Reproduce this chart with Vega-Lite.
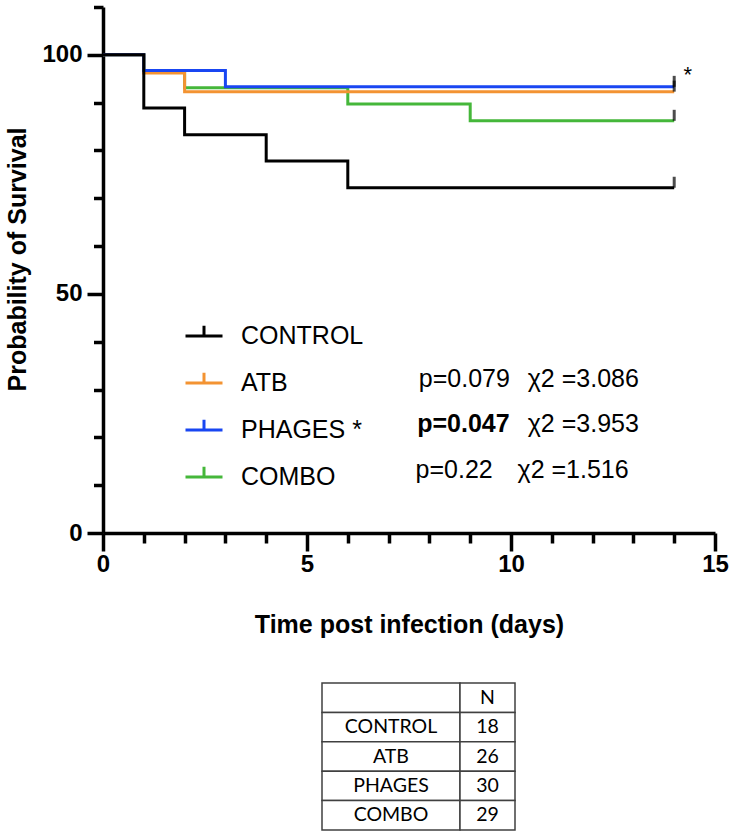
{
  "$schema": "https://vega.github.io/schema/vega-lite/v6.json",
  "background": "white",
  "padding": {"left": 5, "top": 5, "right": 5, "bottom": 2},
  "config": {"view": {"stroke": null}, "font": "Liberation Sans"},
  "datasets": {
    "survival": [
      {"group": "COMBO", "day": 0, "survival": 100},
      {"group": "COMBO", "day": 1, "survival": 96.6},
      {"group": "COMBO", "day": 2, "survival": 93.1},
      {"group": "COMBO", "day": 6, "survival": 89.7},
      {"group": "COMBO", "day": 9, "survival": 86.2},
      {"group": "COMBO", "day": 14, "survival": 86.2},
      {"group": "ATB", "day": 0, "survival": 100},
      {"group": "ATB", "day": 1, "survival": 96.2},
      {"group": "ATB", "day": 2, "survival": 92.3},
      {"group": "ATB", "day": 14, "survival": 92.3},
      {"group": "PHAGES", "day": 0, "survival": 100},
      {"group": "PHAGES", "day": 1, "survival": 96.7},
      {"group": "PHAGES", "day": 3, "survival": 93.3},
      {"group": "PHAGES", "day": 14, "survival": 93.3},
      {"group": "CONTROL", "day": 0, "survival": 100},
      {"group": "CONTROL", "day": 1, "survival": 88.9},
      {"group": "CONTROL", "day": 2, "survival": 83.3},
      {"group": "CONTROL", "day": 4, "survival": 77.8},
      {"group": "CONTROL", "day": 6, "survival": 72.2},
      {"group": "CONTROL", "day": 14, "survival": 72.2}
    ],
    "stats": [
      {"group": "ATB", "p": "p=0.079", "chi2": "χ2 =3.086"},
      {"group": "PHAGES", "p": "p=0.047", "chi2": "χ2 =3.953"},
      {"group": "COMBO", "p": "p=0.22", "chi2": "χ2 =1.516"}
    ],
    "notes": [{"text": "*"}],
    "counts": [
      {"row": "header", "label": "", "n": "N"},
      {"row": "CONTROL", "label": "CONTROL", "n": "18"},
      {"row": "ATB", "label": "ATB", "n": "26"},
      {"row": "PHAGES", "label": "PHAGES", "n": "30"},
      {"row": "COMBO", "label": "COMBO", "n": "29"}
    ]
  },
  "spacing": 45,
  "vconcat": [
    {
      "width": 612,
      "height": 526,
      "layer": [
        {
          "data": {"name": "survival"},
          "mark": {"type": "line", "interpolate": "step-after", "strokeWidth": 3},
          "encoding": {
            "x": {
              "field": "day", "type": "quantitative",
              "scale": {"domain": [0, 15], "nice": false, "zero": false},
              "title": "Time post infection (days)",
              "axis": {
                "values": [0,1,2,3,4,5,6,7,8,9,10,11,12,13,14,15],
                "grid": false,
                "domainColor": "black", "domainWidth": 3.5,
                "tickColor": "black", "tickWidth": 3.5,
                "tickSize": {"condition": {"test": "datum.value % 5 === 0", "value": 18}, "value": 10},
                "labelExpr": "datum.value % 5 === 0 ? datum.label : ''",
                "labelFontSize": {"condition": {"test": "datum.value % 5 === 0", "value": 24}, "value": 0},
                "labelOverlap": false, "labelFlush": false,
                "labelFont": "Liberation Sans", "labelFontWeight": "bold", "labelColor": "black",
                "labelPadding": 1,
                "titleFont": "Liberation Sans", "titleFontSize": 25, "titleFontWeight": "bold", "titleColor": "black",
                "titlePadding": 36
              }
            },
            "y": {
              "field": "survival", "type": "quantitative",
              "scale": {"domain": [0, 110], "nice": false},
              "title": "Probability of Survival",
              "axis": {
                "values": [0,5,10,15,20,25,30,35,40,45,50,55,60,65,70,75,80,85,90,95,100,105,110],
                "grid": false,
                "domainColor": "black", "domainWidth": 3.5,
                "tickColor": "black", "tickWidth": 3.5,
                "tickSize": {"condition": {"test": "datum.value % 50 === 0", "value": 16}, "value": 9.5},
                "labelExpr": "datum.value % 50 === 0 ? datum.label : ''",
                "labelFontSize": {"condition": {"test": "datum.value % 50 === 0", "value": 24}, "value": 0},
                "labelOverlap": false, "labelFlush": false,
                "labelFont": "Liberation Sans", "labelFontWeight": "bold", "labelColor": "black",
                "labelPadding": 5,
                "titleFont": "Liberation Sans", "titleFontSize": 25, "titleFontWeight": "bold", "titleColor": "black",
                "titlePadding": 11,
                "titleY": 252
              }
            },
            "color": {
              "field": "group", "type": "nominal",
              "scale": {"domain": ["CONTROL", "ATB", "PHAGES", "COMBO"], "range": ["#000000", "#F39332", "#1946F2", "#45B73A"]},
              "legend": {
                "orient": "none", "legendX": 81, "legendY": 309, "title": null, "padding": 0,
                "symbolType": "M-1,0H1M0,0V-0.55", "symbolSize": 1369, "symbolStrokeWidth": 3,
                "labelFont": "Liberation Sans", "labelFontSize": 25, "labelColor": "black", "labelOffset": 17,
                "rowPadding": 14,
                "labelExpr": "datum.label == 'PHAGES' ? 'PHAGES *' : datum.label"
              }
            }
          }
        },
        {
          "data": {"name": "survival"},
          "transform": [{"filter": "datum.day == 14"}],
          "mark": {"type": "tick", "orient": "vertical", "size": 11, "thickness": 3, "color": "black", "yOffset": -5.5},
          "encoding": {
            "x": {"field": "day", "type": "quantitative"},
            "y": {"field": "survival", "type": "quantitative"}
          }
        },
        {
          "data": {"name": "notes"},
          "mark": {"type": "text", "fontSize": 22, "align": "center", "baseline": "alphabetic", "color": "black"},
          "encoding": {"text": {"field": "text"}, "x": {"datum": 14.33}, "y": {"datum": 94.3}}
        },
        {
          "data": {"name": "stats"},
          "transform": [{"filter": "datum.group == 'ATB'"}],
          "mark": {"type": "text", "fontSize": 25, "align": "left", "baseline": "alphabetic", "color": "black"},
          "encoding": {"text": {"field": "p"}, "x": {"datum": 7.74}, "y": {"datum": 30.5}}
        },
        {
          "data": {"name": "stats"},
          "transform": [{"filter": "datum.group == 'ATB'"}],
          "mark": {"type": "text", "fontSize": 25, "align": "left", "baseline": "alphabetic", "color": "black"},
          "encoding": {"text": {"field": "chi2"}, "x": {"datum": 10.41}, "y": {"datum": 30.5}}
        },
        {
          "data": {"name": "stats"},
          "transform": [{"filter": "datum.group == 'PHAGES'"}],
          "mark": {"type": "text", "fontSize": 25, "fontWeight": "bold", "align": "left", "baseline": "alphabetic", "color": "black"},
          "encoding": {"text": {"field": "p"}, "x": {"datum": 7.70}, "y": {"datum": 21.1}}
        },
        {
          "data": {"name": "stats"},
          "transform": [{"filter": "datum.group == 'PHAGES'"}],
          "mark": {"type": "text", "fontSize": 25, "align": "left", "baseline": "alphabetic", "color": "black"},
          "encoding": {"text": {"field": "chi2"}, "x": {"datum": 10.41}, "y": {"datum": 21.1}}
        },
        {
          "data": {"name": "stats"},
          "transform": [{"filter": "datum.group == 'COMBO'"}],
          "mark": {"type": "text", "fontSize": 25, "align": "left", "baseline": "alphabetic", "color": "black"},
          "encoding": {"text": {"field": "p"}, "x": {"datum": 7.66}, "y": {"datum": 11.4}}
        },
        {
          "data": {"name": "stats"},
          "transform": [{"filter": "datum.group == 'COMBO'"}],
          "mark": {"type": "text", "fontSize": 25, "align": "left", "baseline": "alphabetic", "color": "black"},
          "encoding": {"text": {"field": "chi2"}, "x": {"datum": 10.16}, "y": {"datum": 11.4}}
        }
      ]
    },
    {
      "spacing": 0,
      "bounds": "flush",
      "hconcat": [
        {
          "width": 219,
          "height": 147,
          "data": {"values": [{}]},
          "mark": {"type": "text"},
          "encoding": {"text": {"value": ""}}
        },
        {
          "width": 138,
          "height": 147,
          "data": {"name": "counts"},
          "layer": [
            {
              "mark": {"type": "rect", "fill": "white", "stroke": "#404040", "strokeWidth": 1.5},
              "encoding": {
                "y": {"field": "row", "type": "nominal", "sort": null, "scale": {"paddingInner": 0, "paddingOuter": 0}, "axis": null},
                "x": {"value": 0},
                "x2": {"value": "width"}
              }
            },
            {
              "mark": {"type": "text", "font": "Lato", "fontSize": 19.5, "color": "black"},
              "encoding": {
                "y": {"field": "row", "type": "nominal", "sort": null, "axis": null},
                "text": {"field": "label"}
              }
            }
          ]
        },
        {
          "width": 55,
          "height": 147,
          "data": {"name": "counts"},
          "layer": [
            {
              "mark": {"type": "rect", "fill": "white", "stroke": "#404040", "strokeWidth": 1.5},
              "encoding": {
                "y": {"field": "row", "type": "nominal", "sort": null, "scale": {"paddingInner": 0, "paddingOuter": 0}, "axis": null},
                "x": {"value": 0},
                "x2": {"value": "width"}
              }
            },
            {
              "mark": {"type": "text", "font": "Lato", "fontSize": 19.5, "color": "black"},
              "encoding": {
                "y": {"field": "row", "type": "nominal", "sort": null, "axis": null},
                "text": {"field": "n"}
              }
            }
          ]
        }
      ]
    }
  ]
}
